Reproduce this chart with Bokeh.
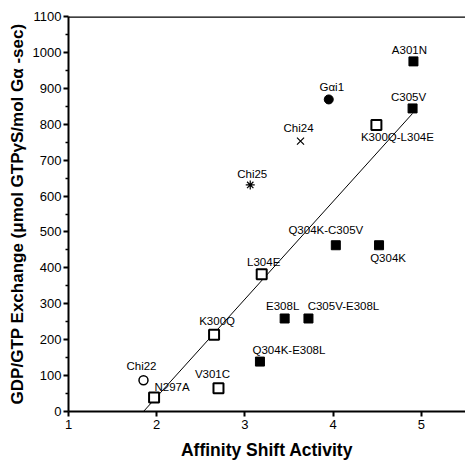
from bokeh.plotting import figure
from bokeh.models import ColumnDataSource, Range1d, FixedTicker, Span
from bokeh.core.properties import value
from bokeh.embed import file_html
from bokeh.resources import INLINE

# ---- data ----
names = ["A301N", "Gαi1", "C305V", "K300Q-L304E", "Chi24", "Chi25",
         "Q304K-C305V", "Q304K", "L304E", "E308L", "C305V-E308L",
         "Q304K-E308L", "K300Q", "V301C", "Chi22", "N297A"]
affinity = [4.91, 3.95, 4.90, 4.49, 3.63, 3.06,
            4.03, 4.52, 3.19, 3.45, 3.72,
            3.17, 2.65, 2.70, 1.85, 1.97]
exchange = [975, 869, 844, 798, 753, 631,
            463, 463, 382, 259, 259,
            139, 214, 65, 87, 39]
kind = ["filled_sq", "filled_circ", "filled_sq", "open_sq", "x", "asterisk",
        "filled_sq", "filled_sq", "open_sq", "filled_sq", "filled_sq",
        "filled_sq", "open_sq", "open_sq", "open_circ", "open_sq"]
fit_x = [1.85, 4.90]
fit_y = [0, 830]
x_ticks = [1, 2, 3, 4, 5]

# label placement (screen px, relative to the point)
lab_dx = [-4, 3, -4, 21, -2, 2, -10, 9, 2, -2, 35, 29, 3, -6, -2, 18]
lab_dy = [-11, -12, -11, 12, -13, -11, -15, 13, -12, -12, -12, -12, -14, -14, -14, -10]

FONT = "Liberation Sans"

p = figure(width=465, height=462, output_backend="svg", toolbar_location=None,
           x_range=Range1d(1, 5.5), y_range=Range1d(0, 1100),
           min_border_left=68, min_border_right=0, min_border_top=16,
           min_border_bottom=49)
p.outline_line_color = None
p.xgrid.visible = False
p.ygrid.visible = False
p.background_fill_color = "white"
p.border_fill_color = "white"

# axes
for ax in (p.xaxis[0], p.yaxis[0]):
    ax.axis_line_width = 2
    ax.axis_line_color = "black"
    ax.major_tick_line_width = 2
    ax.major_tick_line_color = "black"
    ax.minor_tick_line_width = 1.5
    ax.minor_tick_line_color = "black"
    ax.major_tick_in = 0
    ax.major_tick_out = 5
    ax.minor_tick_in = 0
    ax.minor_tick_out = 3
    ax.major_label_text_font = FONT
    ax.major_label_text_font_size = "13px"
    ax.major_label_text_color = "black"
    ax.axis_label_text_font = FONT
    ax.axis_label_text_font_style = "bold"
    ax.axis_label_text_color = "black"

p.xaxis[0].ticker = FixedTicker(ticks=x_ticks, minor_ticks=[])
p.xaxis[0].axis_label = "Affinity Shift Activity"
p.xaxis[0].axis_label_text_font_size = "17.5px"
p.xaxis[0].axis_label_standoff = 8
p.xaxis[0].major_label_standoff = 3

p.yaxis[0].ticker = FixedTicker(ticks=list(range(0, 1101, 100)),
                                minor_ticks=list(range(50, 1100, 100)))
p.yaxis[0].axis_label = "GDP/GTP Exchange (μmol GTPγS/mol Gα -sec)"
p.yaxis[0].axis_label_text_font_size = "17px"
p.yaxis[0].axis_label_standoff = 3
p.yaxis[0].major_label_standoff = 2

# top border
p.add_layout(Span(location=1100, dimension="width", line_color="black", line_width=2.5))

# fit line
p.line(fit_x, fit_y, line_color="black", line_width=1)

# markers
styles = {
    "filled_sq": dict(marker="square", size=9, fill_color="black", line_color="black", line_width=1),
    "open_sq": dict(marker="square", size=10, fill_color="white", line_color="black", line_width=2),
    "filled_circ": dict(marker="circle", size=9, fill_color="black", line_color="black", line_width=1),
    "open_circ": dict(marker="circle", size=9, fill_color="white", line_color="black", line_width=1.5),
    "x": dict(marker="x", size=10, fill_color=None, line_color="black", line_width=1.2),
    "asterisk": dict(marker="asterisk", size=9, fill_color=None, line_color="black", line_width=1.2),
}
for k, st in styles.items():
    idx = [i for i, kk in enumerate(kind) if kk == k]
    src = ColumnDataSource(dict(x=[affinity[i] for i in idx], y=[exchange[i] for i in idx]))
    p.scatter("x", "y", source=src, **st)

lab_src = ColumnDataSource(dict(x=affinity, y=exchange, t=names, dx=lab_dx, dy=lab_dy))
p.text("x", "y", text="t", source=lab_src, x_offset="dx", y_offset="dy",
       text_align="center", text_baseline="middle",
       text_font=value(FONT), text_font_size="11.5px", text_color="black")

open("out.html", "w").write(file_html(p, INLINE))
